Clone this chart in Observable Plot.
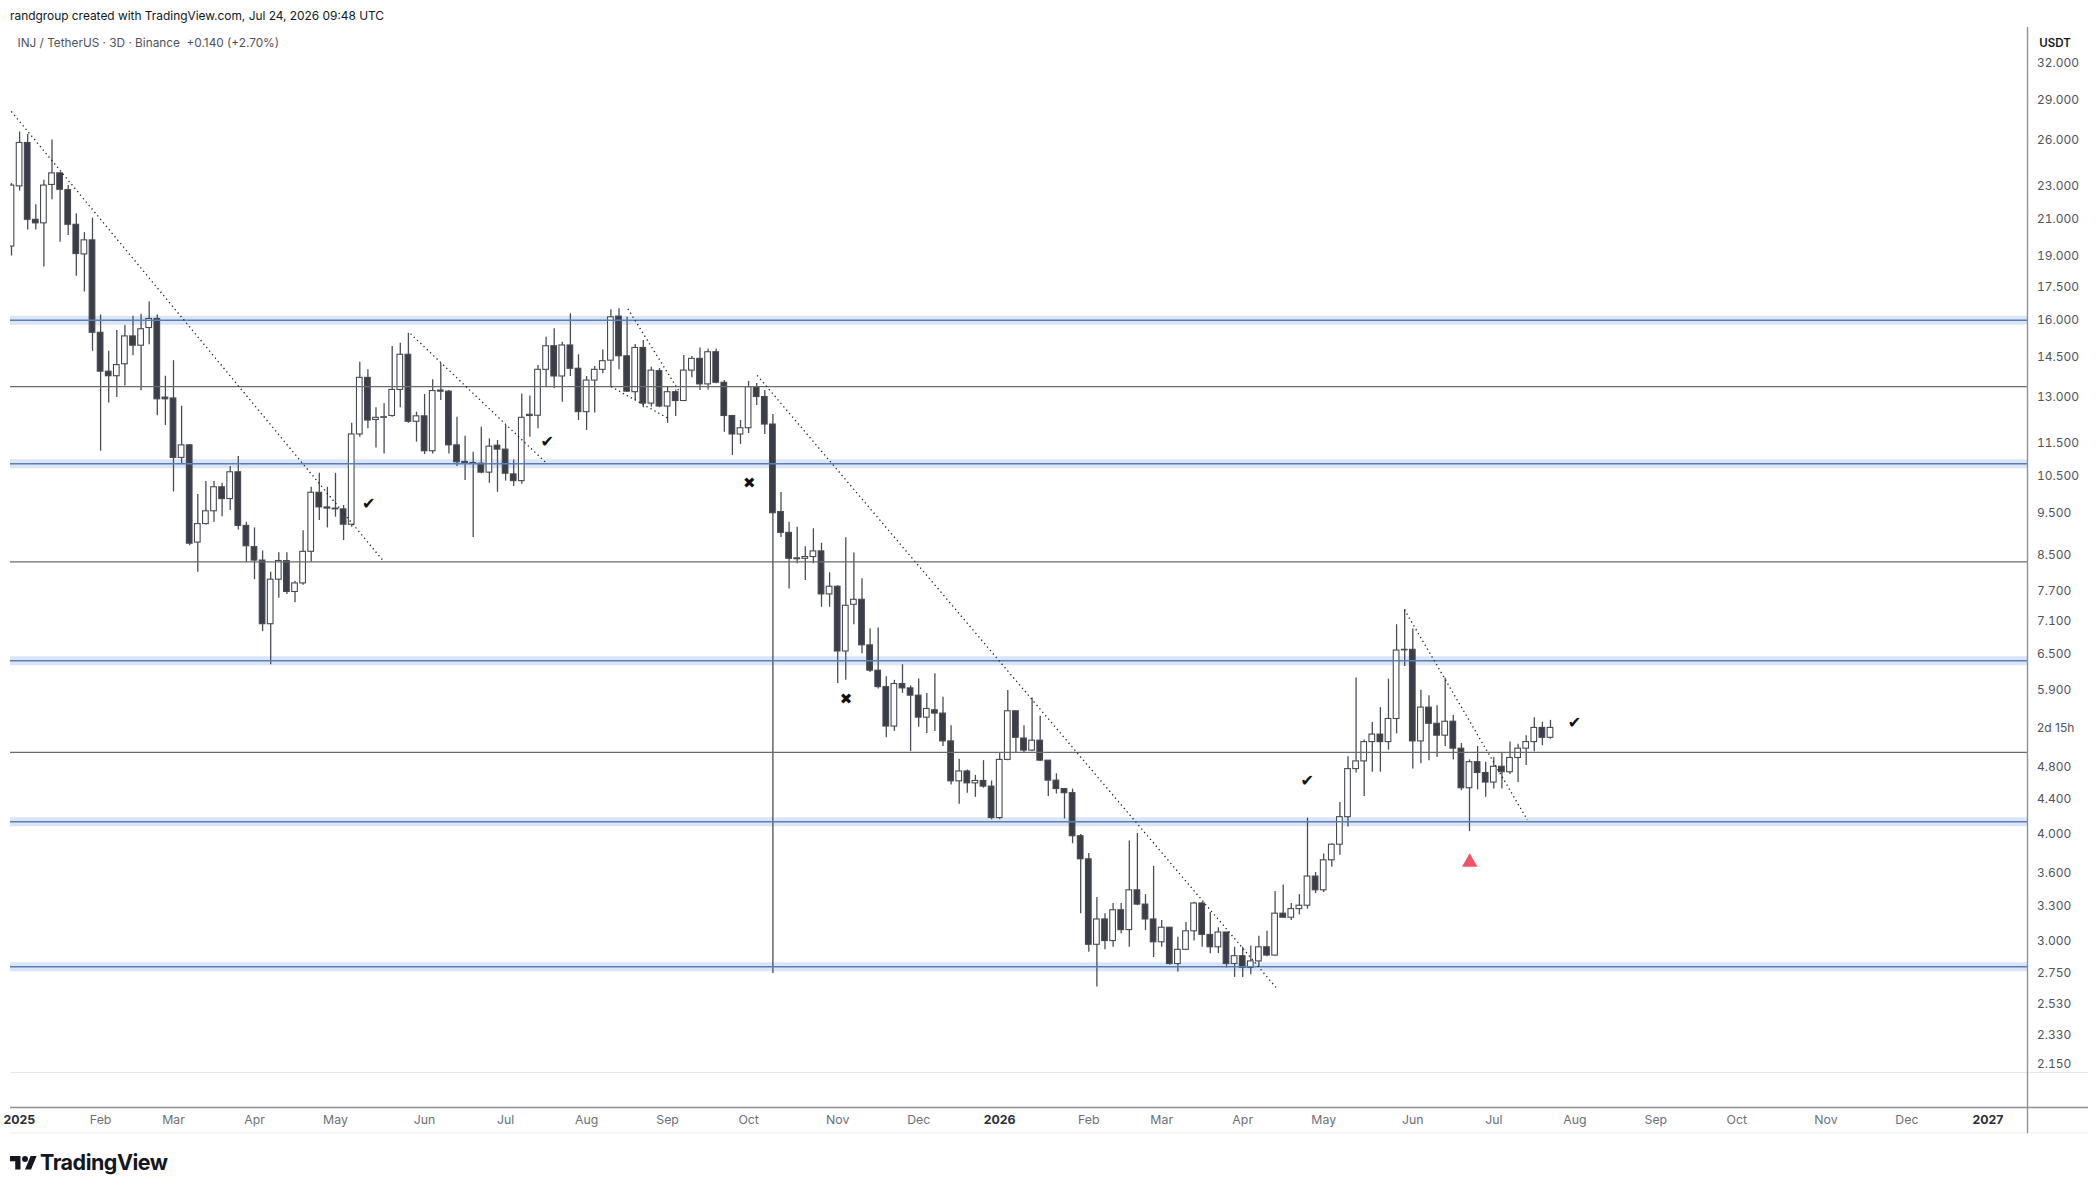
<!DOCTYPE html>
<html>
<head>
<meta charset="utf-8">
<script src="https://cdn.jsdelivr.net/npm/d3@7"></script>
<script src="https://cdn.jsdelivr.net/npm/@observablehq/plot@0.6"></script>
<style>
  html, body { margin:0; padding:0; background:#fff; }
  body { width:2096px; height:1193px; overflow:hidden; font-family: Inter, "Liberation Sans", sans-serif; }
  #header { position:relative; height:27px; }
  #header span { position:absolute; left:10px; top:8px; font-size:11.9px; color:#131722; white-space:nowrap; }
  #chart svg { display:block; }
  #footer { position:relative; height:56px; }
  #footer svg { position:absolute; left:10px; top:16px; }
  #footer span { position:absolute; left:40px; top:12px; font-size:21.5px; font-weight:700; color:#131722; letter-spacing:-0.5px; }
</style>
</head>
<body>
<div id="header"><span>randgroup created with TradingView.com, Jul 24, 2026 09:48 UTC</span></div>
<div id="chart"></div>
<div id="footer">
  <svg width="27" height="21" viewBox="0 0 36 28"><path d="M14 22H7V11H0V4h14v18z" fill="#131722"/><circle cx="20" cy="8" r="4" fill="#131722"/><path d="M28 22h-8l7.5-18h8L28 22z" fill="#131722"/></svg>
  <span>TradingView</span>
</div>
<script>
// ---------- data ----------
const startDate = "2024-12-31";   // open date of the first 3D bar
const barDays = 3;
const open = [
19.52,22.96,25.81,20.98,20.78,23.05,23.78,22.73,20.70,19.11,
19.85,15.47,13.93,13.76,14.21,15.32,14.94,15.67,16.06,12.99,
12.96,11.04,11.42,8.785,9.235,9.56,10.20,9.88,10.62,9.19,
8.68,8.37,7.05,7.95,8.36,7.69,7.87,8.57,10.05,9.66,
9.63,9.61,9.22,11.76,13.70,12.23,12.30,12.36,13.26,14.58,
12.17,12.35,11.24,13.24,13.20,11.42,10.92,10.89,10.87,10.61,
11.41,11.29,10.56,10.37,12.36,12.37,14.00,14.92,13.75,14.95,
14.04,12.49,13.60,14.00,14.35,16.16,14.52,13.18,14.85,12.78,
13.95,12.68,13.18,12.87,13.97,14.42,13.46,14.68,13.52,12.36,
11.76,11.96,13.36,13.01,12.08,9.54,9.02,8.42,8.41,8.45,
8.58,7.64,7.80,6.55,7.43,7.53,6.66,6.22,5.95,5.35,
6.00,5.93,5.815,5.48,5.59,5.54,5.14,4.615,4.74,4.59,
4.62,4.55,4.18,4.89,5.575,5.18,5.014,5.15,4.88,4.624,
4.52,4.47,3.98,3.74,2.97,3.18,3.00,3.26,3.09,3.44,
3.31,3.18,2.99,3.11,2.82,2.93,3.08,3.32,3.05,2.95,
3.07,2.82,2.88,2.79,2.84,2.95,2.885,3.23,3.195,3.27,
3.30,3.57,3.44,3.73,3.89,4.19,4.77,4.87,5.13,5.235,
5.13,5.46,6.57,6.58,5.14,5.63,5.39,5.22,5.42,5.04,
4.53,4.86,4.72,4.60,4.80,4.73,4.915,5.04,5.13,5.33,
5.19];
const high = [
23.14,26.59,26.41,21.85,23.35,26.01,23.83,23.01,21.33,20.27,
21.07,16.23,14.72,15.57,15.78,16.18,16.26,16.81,16.23,13.76,
14.35,12.69,11.45,10.00,10.36,10.36,10.31,10.78,11.08,9.28,
9.14,8.59,8.11,8.55,8.55,7.91,9.07,10.20,10.59,10.20,
10.59,9.71,12.12,14.29,14.00,12.64,12.78,14.91,15.04,15.45,
12.49,13.10,13.63,14.25,13.24,12.32,11.70,11.21,11.99,11.62,
11.57,12.05,10.98,13.12,13.05,14.16,15.29,15.64,15.08,16.28,
14.58,13.75,14.13,14.77,16.46,16.51,16.13,14.99,15.15,14.10,
14.05,13.36,13.26,14.55,14.51,14.85,14.81,14.81,13.60,12.38,
12.21,13.57,13.49,13.24,12.41,10.06,9.28,9.16,8.69,9.12,
8.77,8.10,7.82,8.90,8.54,7.97,6.96,6.98,6.12,6.06,
6.32,5.97,6.08,5.85,6.17,5.79,5.36,4.90,4.76,4.69,
4.88,4.62,4.98,5.895,5.58,5.36,5.78,5.50,4.88,4.71,
4.525,4.52,4.00,3.80,3.375,3.23,3.32,3.32,3.93,4.01,
3.40,3.67,3.17,3.11,3.03,3.155,3.33,3.33,3.24,3.11,
3.07,2.95,2.95,2.96,3.04,3.08,3.43,3.49,3.32,3.40,
4.18,3.61,3.795,3.90,4.36,4.93,6.10,5.16,5.41,5.63,
6.08,7.04,7.33,6.96,5.90,5.815,5.66,6.10,5.51,5.11,
4.89,5.07,4.86,4.92,4.98,5.13,5.10,5.22,5.48,5.41,
5.44];
const low = [
19.03,22.67,20.41,20.41,18.47,22.15,19.75,20.11,18.02,17.27,
14.72,11.24,12.80,12.99,13.40,14.54,13.23,14.98,12.37,12.05,
10.07,10.85,8.71,8.11,9.21,9.28,9.42,9.58,9.09,8.33,
7.95,6.91,6.32,7.56,7.64,7.47,7.83,8.33,9.325,9.14,
9.41,8.835,9.16,11.67,11.94,11.34,11.16,12.32,12.64,12.12,
11.52,11.14,11.16,12.89,11.16,10.79,10.39,8.91,10.58,10.31,
10.06,10.37,10.22,10.28,11.67,11.94,13.34,13.30,12.83,13.75,
12.21,11.89,12.46,13.85,13.38,14.00,13.17,12.89,12.64,12.66,
12.64,12.12,12.34,12.85,13.70,13.24,13.26,13.48,11.83,11.11,
11.45,11.79,12.72,11.76,2.748,8.91,7.75,8.30,7.93,8.30,
7.38,7.38,6.01,6.06,7.04,6.51,6.19,5.92,5.19,5.28,
5.85,5.00,5.34,5.25,5.28,5.07,4.57,4.34,4.47,4.42,
4.53,4.16,4.16,4.88,4.98,4.98,5.00,4.87,4.43,4.46,
4.17,3.90,3.23,2.91,2.65,2.93,2.95,3.06,2.95,3.30,
3.086,2.87,2.95,2.81,2.76,2.925,3.00,2.95,2.90,2.90,
2.79,2.72,2.72,2.74,2.795,2.875,2.88,3.19,3.17,3.22,
3.27,3.41,3.42,3.66,3.78,4.08,4.72,4.43,4.73,4.73,
5.02,5.245,6.29,4.77,4.84,4.88,4.92,5.07,4.89,4.50,
4.03,4.51,4.42,4.52,4.52,4.70,4.60,4.815,5.00,5.08,
5.17];
const close = [
23.01,25.81,20.98,20.78,23.01,23.78,22.75,20.70,19.13,19.85,
15.47,13.93,13.76,14.18,15.32,14.94,15.62,16.06,12.93,12.93,
11.04,11.42,8.76,9.235,9.56,10.20,9.88,10.62,9.19,8.70,
8.37,7.05,7.95,8.36,7.69,7.87,8.57,10.05,9.66,9.63,
9.61,9.22,11.76,13.70,12.21,12.30,12.32,13.26,14.58,12.17,
12.35,11.24,13.22,13.20,11.42,10.91,10.89,10.87,10.61,11.38,
11.29,10.58,10.37,12.30,12.40,14.00,14.92,13.75,14.95,14.04,
12.49,13.60,14.00,14.33,16.13,14.52,13.20,14.85,12.78,13.97,
12.68,13.18,12.87,13.97,14.42,13.46,14.68,13.52,12.36,11.76,
11.96,13.36,13.01,12.08,9.51,9.02,8.41,8.40,8.45,8.58,
7.64,7.80,6.55,7.41,7.53,6.66,6.22,5.95,5.35,6.00,
5.93,5.815,5.48,5.61,5.54,5.14,4.615,4.74,4.59,4.62,
4.55,4.18,4.89,5.575,5.19,5.014,5.15,4.88,4.624,4.52,
4.47,3.98,3.74,2.97,3.18,3.00,3.26,3.09,3.44,3.31,
3.18,2.99,3.11,2.82,2.93,3.08,3.32,3.05,2.95,3.07,
2.82,2.88,2.79,2.84,2.95,2.885,3.23,3.195,3.27,3.30,
3.57,3.44,3.73,3.89,4.19,4.77,4.87,5.13,5.235,5.13,
5.46,6.567,6.58,5.14,5.63,5.39,5.22,5.42,5.04,4.53,
4.86,4.72,4.60,4.80,4.73,4.915,5.04,5.13,5.33,5.19,
5.33];

const zoneLevels = [16.0, 10.87, 6.39, 4.14, 2.80];     // blue zones
const lineLevels = [13.38, 8.34, 4.99];                 // grey horizontal lines

const trendStartDate = ["2024-12-30T22:00Z","2025-05-27T19:00Z","2025-08-16T07:00Z","2025-08-10T02:00Z","2025-10-03T05:00Z","2026-05-30T22:00Z"];
const trendStartPrice = [28.1, 15.43, 16.50, 13.38, 13.79, 7.33];
const trendEndDate = ["2025-05-18T00:00Z","2025-07-16T19:00Z","2025-09-04T02:00Z","2025-08-31T10:00Z","2026-04-13T19:00Z","2026-07-15T10:00Z"];
const trendEndPrice = [8.34, 10.91, 13.24, 12.27, 2.637, 4.16];

const checkDates = ["2025-05-12T07:00Z","2025-07-17T10:00Z","2026-04-24T22:00Z","2026-08-01T22:00Z"];
const checkPrices = [9.755, 11.52, 4.615, 5.40];
const crossDates = ["2025-09-30T05:00Z","2025-11-05T02:00Z"];
const crossPrices = [10.31, 5.76];
const triangleDates = ["2026-06-24T02:00Z"];
const trianglePrices = [3.71];

const priceTicks = [32,29,26,23,21,19,17.5,16,14.5,13,11.5,10.5,9.5,8.5,7.7,7.1,6.5,5.9,4.8,4.4,4.0,3.6,3.3,3.0,2.75,2.53,2.33,2.15];
const timeLabels = ["2025","Feb","Mar","Apr","May","Jun","Jul","Aug","Sep","Oct","Nov","Dec",
                    "2026","Feb","Mar","Apr","May","Jun","Jul","Aug","Sep","Oct","Nov","Dec","2027"];
const timeLabelDates = ["2024-12-31","2025-02-02","2025-03-01","2025-03-31","2025-04-30","2025-06-02","2025-07-02","2025-08-01","2025-08-31","2025-09-30","2025-11-02","2025-12-02",
                        "2026-01-01","2026-02-03","2026-03-02","2026-04-01","2026-05-01","2026-06-03","2026-07-03","2026-08-02","2026-09-01","2026-10-01","2026-11-03","2026-12-03","2027-01-02"];
const legendText = "INJ / TetherUS · 3D · Binance  +0.140 (+2.70%)";
const countdownText = "2d 15h";
const axisUnit = "USDT";

// ---------- build ----------
const DAY = 864e5;
const startMs = Date.parse(startDate + "T00:00:00Z");
const bars = open.map((o, i) => ({
  date: new Date(startMs + i * barDays * DAY),
  open: o, high: high[i], low: low[i], close: close[i]
}));
const trends = trendStartDate.map((d, i) => ({
  x1: new Date(d), y1: trendStartPrice[i], x2: new Date(trendEndDate[i]), y2: trendEndPrice[i]
}));
const checks = checkDates.map((d, i) => ({date: new Date(d), price: checkPrices[i]}));
const crosses = crossDates.map((d, i) => ({date: new Date(d), price: crossPrices[i]}));
const tris = triangleDates.map((d, i) => ({date: new Date(d), price: trianglePrices[i]}));
const timeTicks = timeLabels.map((t, i) => ({
  date: new Date(timeLabelDates[i] + "T00:00:00Z"),
  text: t,
  year: /^\d{4}$/.test(t)
}));

const t0 = Date.UTC(2025, 0, 1);
const chart = Plot.plot({
  width: 2096,
  height: 1110,
  marginLeft: 10,
  marginRight: 69,
  marginTop: 0,
  marginBottom: 65,
  style: {background: "#fff", color: "#4c4f58", fontFamily: "Inter, 'Liberation Sans', sans-serif", fontSize: "12px", overflow: "visible"},
  x: {type: "utc", domain: [new Date(t0 - 1.37 * DAY), new Date(t0 + 745.67 * DAY)], axis: null},
  y: {type: "log", domain: [2.1047, 35.24], axis: null},
  marks: [
    Plot.ruleY(zoneLevels, {stroke: "#dae6f8", strokeWidth: 9}),
    Plot.ruleX(bars, {x: "date", y1: "low", y2: "high", stroke: "#4a4d56", strokeWidth: 1.3, clip: true}),
    Plot.rect(bars, {
      x1: d => new Date(+d.date - 1.05 * DAY),
      x2: d => new Date(+d.date + 1.05 * DAY),
      y1: "open", y2: "close",
      fill: d => d.close >= d.open ? "#ffffff" : "#3b3e48",
      stroke: "#474a53", strokeWidth: 1.1, clip: true
    }),
    Plot.ruleY(zoneLevels, {stroke: "#5d7eb3", strokeWidth: 1.5}),
    Plot.ruleY(lineLevels, {stroke: "#6a6a6a", strokeWidth: 1.3}),
    Plot.link(trends, {x1: "x1", y1: "y1", x2: "x2", y2: "y2", stroke: "#222", strokeWidth: 1.3, strokeDasharray: "1.3,3.2", clip: true}),
    Plot.text(checks, {x: "date", y: "price", text: () => "✔", fontSize: 16, fill: "#111", fontFamily: "DejaVu Sans"}),
    Plot.text(crosses, {x: "date", y: "price", text: () => "✖", fontSize: 15, fill: "#111", fontFamily: "DejaVu Sans"}),
    Plot.dot(tris, {x: "date", y: "price", symbol: "triangle", r: 5.8, fill: "#ef5367"}),
    Plot.axisY(priceTicks, {anchor: "right", tickSize: 0, tickPadding: 9.5, tickFormat: d3.format(".3f"), label: null, fill: "#50535c"}),
    Plot.text([close[close.length - 1]], {y: d => d, text: () => countdownText, frameAnchor: "right", dx: 9.5, textAnchor: "start", fill: "#50535c"}),
    Plot.text([axisUnit], {text: d => d, frameAnchor: "top-right", dx: 27.5, dy: 16, textAnchor: "middle", lineAnchor: "middle", fontWeight: 600, fontSize: 11.5, fill: "#131722"}),
    Plot.text([legendText], {text: d => d, frameAnchor: "top-left", dx: 7, dy: 15.5, textAnchor: "start", lineAnchor: "middle", fontSize: 11.8, fill: "#4f525b"}),
    Plot.text(timeTicks.filter(d => !d.year), {x: "date", text: "text", frameAnchor: "bottom", dy: 48, lineAnchor: "middle", fill: "#6c6f78", fontSize: 12.3}),
    Plot.text(timeTicks.filter((d, i) => d.year && i > 0), {x: "date", text: "text", frameAnchor: "bottom", dy: 48, lineAnchor: "middle", fill: "#2a2e39", fontSize: 12.3, fontWeight: 700}),
    Plot.text(timeTicks.slice(0, 1), {x: "date", text: "text", frameAnchor: "bottom", dy: 48, dx: -8, textAnchor: "start", lineAnchor: "middle", fill: "#2a2e39", fontSize: 12.3, fontWeight: 700})
  ]
});

const svg = d3.select(chart);
svg.append("line").attr("x1", 10).attr("x2", 2088).attr("y1", 1045.5).attr("y2", 1045.5).attr("stroke", "#e4e6ec").attr("stroke-width", 1);
svg.append("line").attr("x1", 10).attr("x2", 2088).attr("y1", 1080.5).attr("y2", 1080.5).attr("stroke", "#8e9199").attr("stroke-width", 1.4);
svg.append("line").attr("x1", 10).attr("x2", 2088).attr("y1", 1106).attr("y2", 1106).attr("stroke", "#eceef2").attr("stroke-width", 1);
svg.append("line").attr("x1", 2027.5).attr("x2", 2027.5).attr("y1", 0).attr("y2", 1106).attr("stroke", "#8e9199").attr("stroke-width", 1.4);

document.getElementById("chart").append(chart);
</script>
</body>
</html>
